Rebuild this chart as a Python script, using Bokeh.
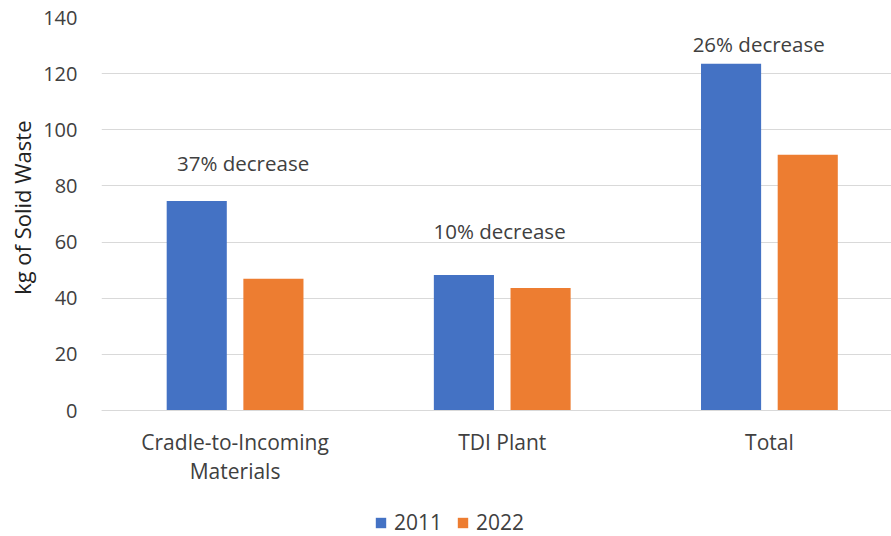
from bokeh.plotting import figure
from bokeh.models import (ColumnDataSource, FixedTicker, Legend, LegendItem,
                          Range1d, Title)
from bokeh.core.properties import value
from bokeh.embed import file_html
from bokeh.resources import INLINE

# Solid waste per unit of product, by life-cycle stage
categories = ["Cradle-to-Incoming\nMaterials", "TDI Plant", "Total"]
waste_2011 = [74.6, 48.3, 123.5]
waste_2022 = [46.9, 43.6, 91.1]
change_labels = ["37% decrease", "10% decrease", "26% decrease"]
y_ticks = [0, 20, 40, 60, 80, 100, 120, 140]

FONT = "Open Sans"
TEXT = "#404040"
BLUE = "#4472C4"
ORANGE = "#ED7D31"
GRID = "#D9D9D9"

idx = list(range(len(categories)))
offset = 0.1435
bar_w = 0.225

# the value axis spans 0..140 over 393 px; the frame continues below zero to
# hold the category labels and the legend
TOP, PLOT_H, BELOW_H = 17, 393, 126
y_max = 140
y_min = -BELOW_H * y_max / PLOT_H

src_a = ColumnDataSource(dict(x=[i - offset for i in idx], top=waste_2011))
src_b = ColumnDataSource(dict(x=[i + offset for i in idx], top=waste_2022))

p = figure(frame_width=790, frame_height=PLOT_H + BELOW_H, output_backend="svg",
           toolbar_location=None,
           x_range=Range1d(-0.5, 2.457), y_range=Range1d(y_min, y_max),
           min_border_left=101, min_border_right=0, min_border_top=TOP,
           min_border_bottom=0)
p.outline_line_color = None
p.background_fill_color = "white"
p.border_fill_color = "white"

r1 = p.vbar(x="x", top="top", width=bar_w, source=src_a, fill_color=BLUE,
            line_color=None)
r2 = p.vbar(x="x", top="top", width=bar_w, source=src_b, fill_color=ORANGE,
            line_color=None)

# percentage-change notes above each pair of bars
note_shift = [0.03, -0.01, -0.04]
note_y = [88.0, 64.1, 130.4]
p.text(x=[i + s for i, s in zip(idx, note_shift)], y=note_y, text=change_labels,
       text_font=value(FONT), text_font_size="20.5px", text_color=TEXT,
       text_align="center", text_baseline="middle")

# y axis
p.yaxis.ticker = FixedTicker(ticks=y_ticks)
p.yaxis.axis_line_color = None
p.yaxis.major_tick_line_color = None
p.yaxis.minor_tick_line_color = None
p.yaxis.major_label_text_font = FONT
p.yaxis.major_label_text_font_size = "20px"
p.yaxis.major_label_text_color = TEXT
p.yaxis.major_label_standoff = 18

# value-axis title, placed against the 0..140 part of the frame
y_title = Title(text="kg of Solid Waste", align="right", offset=103,
                text_font=FONT, text_font_size="22px", text_font_style="normal",
                text_color="#222222", standoff=8)
p.add_layout(y_title, "left")

# x axis pinned to zero, with the category names under it
p.xaxis.fixed_location = 0
p.xaxis.ticker = FixedTicker(ticks=idx)
p.xaxis.major_label_overrides = {i: c for i, c in zip(idx, categories)}
p.xaxis.axis_line_color = GRID
p.xaxis.major_tick_line_color = None
p.xaxis.minor_tick_line_color = None
p.xaxis.major_label_text_font = FONT
p.xaxis.major_label_text_font_size = "21px"
p.xaxis.major_label_text_color = TEXT
p.xaxis.major_label_text_line_height = 1.05
p.xaxis.major_label_standoff = 11

p.xgrid.grid_line_color = None
p.ygrid.grid_line_color = GRID
p.ygrid.grid_line_width = 1

# legend along the bottom edge of the frame
legend = Legend(items=[LegendItem(label="2011", renderers=[r1]),
                       LegendItem(label="2022", renderers=[r2])],
                orientation="horizontal", location=(273, 0),
                label_text_font=FONT, label_text_font_size="21px",
                label_text_color=TEXT, glyph_width=13, glyph_height=13,
                label_height=21, label_standoff=7, spacing=14,
                border_line_color=None, background_fill_alpha=0,
                margin=0, padding=0)
p.add_layout(legend, "center")

open("out.html", "w").write(file_html(p, INLINE))
